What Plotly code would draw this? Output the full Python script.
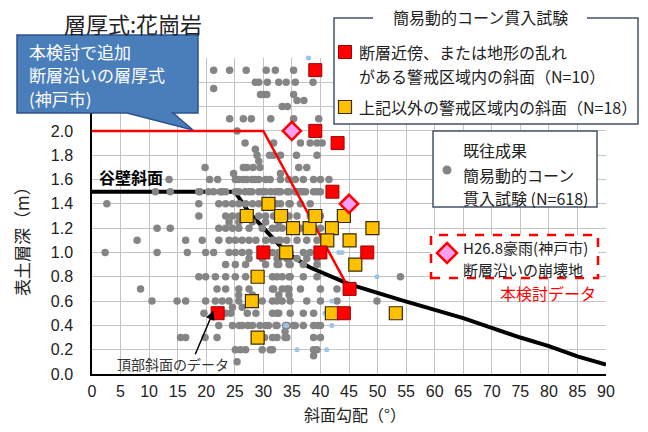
import plotly.graph_objects as go

# ---------------- data ----------------
red_x = [39.1, 39.1, 43.0, 42.1, 45.1, 48.2, 40.0, 30.0, 44.1, 22.0]
red_y = [2.5, 2.0, 1.9, 1.5, 0.7, 1.0, 1.0, 1.0, 0.5, 0.5]

yellow_x = [30.9, 27.1, 33.1, 35.2, 38.1, 39.1, 44.1, 42.0, 41.2, 45.1, 49.1, 34.0,
            46.1, 29.0, 28.0, 42.0, 53.2, 29.0]
yellow_y = [1.4, 1.3, 1.3, 1.2, 1.2, 1.3, 1.3, 1.2, 1.1, 1.1, 1.2, 1.0,
            0.9, 0.8, 0.6, 0.5, 0.5, 0.3]

pink_x = [35.0, 45.0]
pink_y = [2.0, 1.4]

blue_x = [37.9, 49.9, 42.0, 40.8, 34.1, 42.0, 35.9, 41.1, 33.9, 43.2, 43.8]
blue_y = [2.6, 0.8, 0.6, 0.5, 0.4, 0.4, 0.2, 0.2, 0.4, 1.0, 1.0]

red_line_x = [0, 30, 45]
red_line_y = [2.0, 2.0, 0.7]

black_line_x = [0, 25, 27.5, 31, 34, 38, 45, 54, 60, 65, 70, 75, 80, 85, 90]
black_line_y = [1.5, 1.5, 1.33, 1.15, 1.0, 0.88, 0.74, 0.61, 0.53, 0.46, 0.38, 0.30, 0.23, 0.145, 0.077]

gray_pts = [
    (21.3, 2.5), (24.1, 2.5), (27.0, 2.5), (30.5, 2.5), (32.1, 2.5), (35.3, 2.5),
    (28.6, 2.4), (29.2, 2.4), (30.7, 2.4), (32.7, 2.4), (34.0, 2.4), (35.6, 2.4), (38.7, 2.4),
    (21.3, 2.35),
    (29.5, 2.3), (30.1, 2.3), (30.6, 2.3), (35.3, 2.3),
    (35.9, 2.25), (37.1, 2.25),
    (33.3, 2.2), (34.2, 2.2),
    (24.1, 2.1), (26.5, 2.1), (27.9, 2.1), (31.3, 2.1), (35.3, 2.1), (39.7, 2.1),
    (25.4, 2.0),
    (26.8, 1.9), (31.8, 1.9), (36.5, 1.9), (38.2, 1.9), (39.4, 1.9), (40.3, 1.9),
    (28.6, 1.85),
    (28.9, 1.8), (31.1, 1.8), (31.8, 1.8), (33.0, 1.8), (35.8, 1.8), (39.4, 1.8),
    (29.2, 1.75),
    (19.8, 1.7), (26.5, 1.7), (27.1, 1.7), (28.2, 1.7), (29.4, 1.7), (36.2, 1.7), (37.6, 1.7),
    (24.8, 1.65), (33.0, 1.65),
    (13.5, 1.6), (20.6, 1.6), (22.0, 1.6), (25.1, 1.6), (25.7, 1.6), (26.5, 1.6), (27.1, 1.6),
    (28.0, 1.6), (28.6, 1.6), (29.2, 1.6), (30.4, 1.6), (31.2, 1.6), (33.0, 1.6), (34.4, 1.6),
    (35.6, 1.6), (37.0, 1.6), (38.8, 1.6), (40.0, 1.6), (41.5, 1.6),
    (11.1, 1.5), (13.7, 1.5), (18.7, 1.5), (18.9, 1.5), (20.4, 1.5), (21.3, 1.5), (22.5, 1.5),
    (22.8, 1.5), (23.4, 1.5), (25.1, 1.5), (25.7, 1.5), (26.8, 1.5), (27.5, 1.5), (28.0, 1.5),
    (29.2, 1.5), (29.8, 1.5), (30.4, 1.5), (31.3, 1.5), (32.1, 1.5), (32.7, 1.5), (33.0, 1.5),
    (34.2, 1.5), (34.5, 1.5), (35.6, 1.5), (35.9, 1.5), (36.5, 1.5), (37.0, 1.5), (37.4, 1.5),
    (38.8, 1.5), (39.4, 1.5), (40.0, 1.5),
    (2.6, 1.4), (18.7, 1.4), (22.2, 1.4), (23.4, 1.4), (24.6, 1.4), (25.7, 1.4), (26.9, 1.4),
    (28.1, 1.4), (29.2, 1.4), (32.2, 1.4), (33.0, 1.4), (34.5, 1.4), (34.7, 1.4), (36.5, 1.4),
    (38.2, 1.4),
    (18.7, 1.3), (23.4, 1.3), (24.6, 1.3), (25.7, 1.3), (29.2, 1.3), (30.4, 1.3), (31.8, 1.3),
    (32.7, 1.3), (33.5, 1.3), (34.5, 1.3), (35.9, 1.3), (38.2, 1.3), (40.0, 1.3),
    (24.0, 1.25), (25.7, 1.25), (28.1, 1.25), (30.4, 1.25), (32.7, 1.25),
    (11.4, 1.2), (13.7, 1.2), (22.2, 1.2), (23.4, 1.2), (24.6, 1.2), (25.7, 1.2), (27.5, 1.2),
    (29.8, 1.2), (31.6, 1.2), (32.4, 1.2), (33.3, 1.2), (36.5, 1.2), (38.8, 1.2), (40.0, 1.2),
    (7.9, 1.1), (16.4, 1.1), (19.3, 1.1), (22.2, 1.1), (24.0, 1.1), (25.1, 1.1), (26.3, 1.1),
    (27.5, 1.1), (28.7, 1.1), (30.4, 1.1), (31.6, 1.1), (31.8, 1.1), (32.7, 1.1), (33.0, 1.1),
    (34.1, 1.1), (35.9, 1.1), (37.6, 1.1), (39.4, 1.1),
    (2.3, 1.0), (11.4, 1.0), (16.7, 1.0), (19.9, 1.0), (21.3, 1.0), (24.0, 1.0), (25.1, 1.0),
    (26.3, 1.0), (27.5, 1.0), (31.6, 1.0), (32.7, 1.0), (33.0, 1.0), (34.5, 1.0), (34.7, 1.0),
    (37.0, 1.0), (38.2, 1.0),
    (27.5, 0.95), (29.8, 0.95), (32.4, 0.95), (32.7, 0.95), (34.1, 0.95), (34.5, 0.95),
    (35.9, 0.95), (37.6, 0.95), (39.4, 0.95),
    (23.4, 0.9), (25.1, 0.9), (26.9, 0.9), (30.4, 0.9), (32.4, 0.9), (32.7, 0.9), (34.5, 0.9),
    (34.7, 0.9), (37.0, 0.9), (39.4, 0.9),
    (18.7, 0.8), (19.9, 0.8), (21.6, 0.8), (23.4, 0.8), (25.1, 0.8), (26.9, 0.8), (31.6, 0.8),
    (32.4, 0.8), (33.3, 0.8), (34.5, 0.8), (34.7, 0.8), (37.0, 0.8), (39.4, 0.8), (54.0, 0.8),
    (8.5, 0.7), (21.9, 0.7), (23.4, 0.7), (25.7, 0.7), (27.5, 0.7), (31.6, 0.7), (31.8, 0.7),
    (33.3, 0.7), (34.1, 0.7), (34.5, 0.7), (36.5, 0.7), (40.0, 0.7), (42.9, 0.7),
    (25.7, 0.65), (28.1, 0.65), (32.7, 0.65), (34.5, 0.65),
    (10.5, 0.6), (14.9, 0.6), (16.4, 0.6), (19.9, 0.6), (21.6, 0.6), (22.8, 0.6), (24.0, 0.6),
    (25.7, 0.6), (29.8, 0.6), (31.6, 0.6), (32.4, 0.6), (33.3, 0.6), (34.7, 0.6), (37.6, 0.6),
    (40.0, 0.6), (42.9, 0.6), (49.9, 0.6),
    (24.6, 0.55), (26.3, 0.55),
    (19.6, 0.5), (23.4, 0.5), (24.3, 0.5), (27.2, 0.5), (28.7, 0.5), (31.6, 0.5), (32.4, 0.5),
    (32.7, 0.5), (34.7, 0.5), (37.0, 0.5), (38.8, 0.5),
    (22.2, 0.4), (24.6, 0.4), (25.8, 0.4), (26.3, 0.4), (27.3, 0.4), (28.1, 0.4), (29.4, 0.4),
    (30.4, 0.4), (30.9, 0.4), (32.2, 0.4), (32.4, 0.4), (33.9, 0.4), (34.2, 0.4), (35.3, 0.4),
    (35.6, 0.4), (37.0, 0.4), (38.8, 0.4), (39.6, 0.4), (40.0, 0.4),
    (33.8, 0.35),
    (15.5, 0.3), (16.4, 0.3), (19.8, 0.3), (21.9, 0.3), (30.2, 0.3), (31.6, 0.3), (32.4, 0.3),
    (33.8, 0.3), (34.1, 0.3), (38.8, 0.3), (40.0, 0.3),
    (25.1, 0.2), (26.0, 0.2), (26.9, 0.2), (29.8, 0.2), (31.2, 0.2), (31.6, 0.2), (38.8, 0.2),
    (39.4, 0.2),
    (38.8, 0.15),
    (25.4, 0.1),
]
gray_x = [p[0] for p in gray_pts]
gray_y = [p[1] for p in gray_pts]

x_ticks = list(range(0, 91, 5))
y_ticks = [0.0, 0.2, 0.4, 0.6, 0.8, 1.0, 1.2, 1.4, 1.6, 1.8, 2.0, 2.2, 2.4, 2.6]
y_ticktext = ["0.0", "0.2", "0.4", "0.6", "0.8", "1.0", "1.2", "1.4", "1.6", "1.8", "2.0", "", "", ""]

# ---------------- layout helpers ----------------
W, H = 648, 432
ML, MR, MT, MB = 92, 42, 58, 58
PW, PH = W - ML - MR, H - MT - MB


def PX(px):
    return (px - ML) / PW


def PY(py):
    return (H - MB - py) / PH


JP = "Noto Sans CJK JP, Noto Sans, sans-serif"
NUM = "Liberation Sans Narrow, Arial Narrow, Liberation Sans, sans-serif"
TXT = "#222222"

fig = go.Figure()

fig.add_trace(go.Scatter(x=black_line_x, y=black_line_y, mode="lines",
                         line=dict(color="black", width=4), hoverinfo="skip"))
fig.add_trace(go.Scatter(x=gray_x, y=gray_y, mode="markers",
                         marker=dict(size=7.5, color="#858585"), hoverinfo="skip"))
fig.add_trace(go.Scatter(x=blue_x, y=blue_y, mode="markers", cliponaxis=False,
                         marker=dict(size=5, color="#9dc3e6"), hoverinfo="skip"))
fig.add_trace(go.Scatter(x=red_line_x, y=red_line_y, mode="lines",
                         line=dict(color="#ff0000", width=2.5), hoverinfo="skip"))
fig.add_trace(go.Scatter(x=yellow_x, y=yellow_y, mode="markers",
                         marker=dict(symbol="square", size=13, color="#ffc000",
                                     line=dict(color="#3a2c00", width=1.2)), hoverinfo="skip"))
fig.add_trace(go.Scatter(x=red_x, y=red_y, mode="markers",
                         marker=dict(symbol="square", size=13, color="#ff0000",
                                     line=dict(color="#a00000", width=1)), hoverinfo="skip"))
fig.add_trace(go.Scatter(x=pink_x, y=pink_y, mode="markers",
                         marker=dict(symbol="diamond", size=14, color="#f8a0f4",
                                     line=dict(color="#ff0000", width=2.5)), hoverinfo="skip"))

shapes = []
# callout box with tail
cb = [(17, 35), (198, 35), (198, 113), (173, 113), (193, 130), (127, 113), (17, 113)]
path = "M " + " L ".join(f"{PX(a):.5f},{PY(b):.5f}" for a, b in cb) + " Z"
shapes.append(dict(type="path", path=path, xref="paper", yref="paper", layer="above",
                   fillcolor="#4a7ebb", line=dict(color="#2f528f", width=1.5)))
# legend box 1
shapes.append(dict(type="rect", xref="paper", yref="paper", layer="above",
                   x0=PX(334), x1=PX(638), y0=PY(124), y1=PY(18),
                   fillcolor="white", line=dict(color="#44546a", width=1.5)))
shapes.append(dict(type="rect", xref="paper", yref="paper", layer="above",
                   x0=PX(373), x1=PX(587), y0=PY(22), y1=PY(13),
                   fillcolor="white", line=dict(width=0)))
shapes.append(dict(type="rect", xref="paper", yref="paper", layer="above",
                   x0=PX(338.5), x1=PX(351.5), y0=PY(58.5), y1=PY(45.5),
                   fillcolor="#ff0000", line=dict(color="#a00000", width=1)))
shapes.append(dict(type="rect", xref="paper", yref="paper", layer="above",
                   x0=PX(338.5), x1=PX(351.5), y0=PY(113.5), y1=PY(100.5),
                   fillcolor="#ffc000", line=dict(color="#3a2c00", width=1.2)))
# legend box 2
shapes.append(dict(type="rect", xref="paper", yref="paper", layer="above",
                   x0=PX(433), x1=PX(597), y0=PY(207), y1=PY(131),
                   fillcolor="white", line=dict(color="#44546a", width=1.5)))
shapes.append(dict(type="circle", xref="paper", yref="paper", layer="above",
                   x0=PX(442.5), x1=PX(451.5), y0=PY(174.5), y1=PY(165.5),
                   fillcolor="#858585", line=dict(width=0)))
# legend box 3 (dashed red)
shapes.append(dict(type="rect", xref="paper", yref="paper", layer="above",
                   x0=PX(431), x1=PX(598), y0=PY(278), y1=PY(235),
                   fillcolor="white", line=dict(color="#ff0000", width=2.5, dash="dash")))
dm = [(447, 243), (457, 253), (447, 263), (437, 253)]
dpath = "M " + " L ".join(f"{PX(a):.5f},{PY(b):.5f}" for a, b in dm) + " Z"
shapes.append(dict(type="path", path=dpath, xref="paper", yref="paper", layer="above",
                   fillcolor="#f8a0f4", line=dict(color="#ff0000", width=2.5)))

ann = []


def txt(t, px, py, size=16, color=TXT, xanchor="left", bold=False, angle=0, family=JP):
    ann.append(dict(text=f"<b>{t}</b>" if bold else t, x=PX(px), y=PY(py),
                    xref="paper", yref="paper", showarrow=False, xanchor=xanchor,
                    yanchor="middle", textangle=angle,
                    font=dict(family=family, size=size, color=color)))


txt("層厚式:花崗岩", 62, 23, size=22)
txt("本検討で追加", 27, 52, size=17, color="white")
txt("断層沿いの層厚式", 27, 75, size=17, color="white")
txt("(神戸市)", 27, 98, size=17, color="white")
txt("簡易動的コーン貫入試験", 480, 17, size=16, xanchor="center")
txt("断層近傍、または地形の乱れ", 357, 52)
txt("がある警戒区域内の斜面（N=10）", 357, 76)
txt("上記以外の警戒区域内の斜面（N=18）", 357, 107)
txt("既往成果", 461, 150)
txt("簡易動的コーン", 461, 175)
txt("貫入試験 (N=618)", 461, 198)
txt("H26.8豪雨(神戸市)", 461, 247, size=15)
txt("断層沿いの崩壊地", 461, 269, size=15)
txt("本検討データ", 598, 293, size=16, color="#ff0000", xanchor="right")
txt("谷壁斜面", 131, 177, size=16, xanchor="center", bold=True, color="black")
txt("頂部斜面のデータ", 173, 364, size=14, xanchor="center", color="#333333")
txt("斜面勾配（°）", 355, 414, size=16, xanchor="center")
txt("表土層深（m）", 21, 237, size=17, xanchor="center", angle=-90)

ann.append(dict(text="", x=21.3, y=0.52, xref="x", yref="y", showarrow=True,
                ax=-19, ay=45, axref="pixel", ayref="pixel",
                arrowhead=2, arrowsize=1.2, arrowwidth=1.5, arrowcolor="black"))

fig.update_layout(
    width=W, height=H, margin=dict(l=ML, r=MR, t=MT, b=MB, pad=0),
    paper_bgcolor="white", plot_bgcolor="white", showlegend=False,
    shapes=shapes, annotations=ann,
    xaxis=dict(range=[0, 90], tickvals=x_ticks, ticktext=[str(v) for v in x_ticks],
               showgrid=True, gridcolor="#c4c4c4", gridwidth=1, zeroline=False,
               showline=True, linecolor="black", linewidth=1.5, ticks="",
               ticklabelstandoff=2, tickfont=dict(family=NUM, size=16, color=TXT)),
    yaxis=dict(range=[0, 2.6], tickvals=y_ticks, ticktext=y_ticktext,
               showgrid=True, gridcolor="#c4c4c4", gridwidth=1, zeroline=False,
               showline=True, linecolor="black", linewidth=1.5, ticks="",
               ticklabelstandoff=14, tickfont=dict(family=NUM, size=16, color=TXT)),
)

fig.write_html("out.html")
